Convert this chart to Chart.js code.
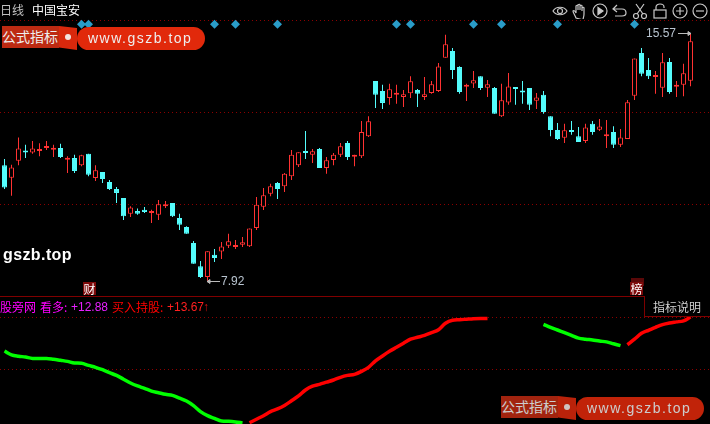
<!DOCTYPE html>
<html>
<head>
<meta charset="utf-8">
<title>中国宝安 日线</title>
<script src="https://cdn.jsdelivr.net/npm/chart.js@4"></script>
<style>
  html, body { margin: 0; padding: 0; background: #000; overflow: hidden; }
  #wrap { position: relative; width: 710px; height: 424px; font: 12px "Noto Sans CJK SC", sans-serif; }
  #wrap canvas { position: absolute; left: 0; top: 0; }
  .t { position: absolute; white-space: nowrap; line-height: 14px; }
  .num { font-family: "Liberation Sans", sans-serif; }
  .mark { position: absolute; background: #7d0a0a; color: #fff; text-align: center; line-height: 13px; height: 13px; width: 13px; font-size: 12px; }
  .badge { position: absolute; width: 205px; height: 25px; }
  .badge .a { position: absolute; left: 0; top: 0; width: 57px; height: 22px; background: #bd2a12; color: #eee; font-size: 14px; line-height: 21px; white-space: nowrap; overflow: hidden; }
  .badge .b { position: absolute; left: 57px; top: 0; width: 18px; height: 24px; background: #d8280c; clip-path: polygon(0 0, 100% 8%, 100% 100%, 0 90%); }
  .badge .dot { position: absolute; left: 63px; top: 8px; width: 6px; height: 6px; border-radius: 3px; background: #f2e4e0; }
  .badge .c { position: absolute; left: 75px; top: 1px; width: 128px; height: 23px; border-radius: 12px; background: #e1290b; color: #eee; font: 14px/22px "Liberation Sans", sans-serif; letter-spacing: 1.5px; text-indent: 11px; }
  svg.ico { position: absolute; top: 3px; width: 16px; height: 16px; fill: none; stroke: #c8c8c8; stroke-width: 1.2; }
</style>
</head>
<body>
<div id="wrap">
  <canvas id="kline" width="710" height="424"></canvas>

  <span class="t" style="left:0;top:3px;color:#c0c0c0">日线</span>
  <span class="t" style="left:32px;top:3px;color:#fff">中国宝安</span>

  <svg class="ico" style="left:552px" viewBox="0 0 16 16"><path d="M1 8c3-5 11-5 14 0-3 5-11 5-14 0z"/><circle cx="8" cy="8" r="2.5"/></svg>
  <svg class="ico" style="left:572px" viewBox="0 0 16 16"><path d="M4 15c-1-3-3-5-3-7 1-1 2 0 3 2V3c1-1 2-1 2 0v4-5c1-1 2-1 2 0v5-4c1-1 2-1 2 0v5-3c1-1 2-1 2 0v6c0 3-1 4-1 6z"/></svg>
  <svg class="ico" style="left:592px" viewBox="0 0 16 16"><circle cx="8" cy="8" r="7"/><path d="M6 4.500l5 3.500-5 3.500z" fill="#c8c8c8"/></svg>
  <svg class="ico" style="left:612px" viewBox="0 0 16 16"><path d="M5 2L1 6l4 3M1 6h9c3 0 4 2 4 4s-1 3-4 3H3"/></svg>
  <svg class="ico" style="left:632px" viewBox="0 0 16 16"><circle cx="4" cy="13" r="2.500"/><circle cx="12" cy="13" r="2.500"/><path d="M5 11L12 1M11 11L4 1"/></svg>
  <svg class="ico" style="left:652px" viewBox="0 0 16 16"><rect x="2" y="7" width="12" height="8"/><path d="M4 7V4c0-4 8-4 8 0v1"/></svg>
  <svg class="ico" style="left:672px" viewBox="0 0 16 16"><circle cx="8" cy="8" r="7"/><path d="M4 8h8M8 4v8"/></svg>
  <svg class="ico" style="left:692px" viewBox="0 0 16 16"><circle cx="8" cy="8" r="7"/><path d="M4 8h8"/></svg>

  <div class="badge" style="left:2px;top:26px">
    <div class="a">公式指标</div><div class="b"></div><div class="dot"></div><div class="c">www.gszb.top</div>
  </div>
  <div class="badge" style="left:501px;top:396px;opacity:.86">
    <div class="a">公式指标</div><div class="b"></div><div class="dot"></div><div class="c">www.gszb.top</div>
  </div>

  <span class="t" style="left:3px;top:246px;color:#fff;font:bold 16px/18px 'Liberation Sans',sans-serif;letter-spacing:.4px">gszb.top</span>

  <span class="t num" style="left:221px;top:274px;color:#b8c4d0">7.92</span>
  <span class="t num" style="left:646px;top:26px;color:#b8c4d0">15.57</span>
  <svg style="position:absolute;left:206px;top:277px" width="15" height="9"><path d="M1 4.500h13M1 4.500l3-2v4z" stroke="#bbb" fill="#bbb"/></svg>
  <svg style="position:absolute;left:678px;top:29px" width="15" height="9"><path d="M0 4.500h13M13 4.500l-3-2v4z" stroke="#bbb" fill="#bbb"/></svg>

  <div class="mark" style="left:83px;top:282px">财</div>
  <div class="mark" style="left:631px;top:278px;height:8px;background:#5a0808"></div>
  <div class="mark" style="left:630px;top:282px">榜</div>

  <span class="t" style="left:0;top:300px;color:#ff00ff">股旁网</span>
  <span class="t" style="left:40px;top:300px;color:#ff00ff">看多:</span>
  <span class="t num" style="left:71px;top:300px;color:#e820ff">+12.88</span>
  <span class="t" style="left:112px;top:300px;color:#ff0000">买入持股:</span>
  <span class="t num" style="left:167px;top:300px;color:#ff2020">+13.67</span>
  <span class="t num" style="left:203px;top:300px;color:#e01010">↑</span>

  <div style="position:absolute;left:644px;top:296px;width:66px;height:20px;border-left:1px solid #7d0000;border-bottom:1px solid #7d0000;background:#000"></div>
  <span class="t" style="left:653px;top:300px;color:#d0d0d0">指标说明</span>
</div>

<script>
// candles, one entry per trading day
const opens = [
  11.50,11.11,11.64,11.94,11.89,11.94,12.03,11.98,12.03,11.67,
  11.72,11.50,11.85,11.10,11.29,10.98,10.76,10.48,9.99,10.08,
  10.12,10.02,9.96,10.23,10.33,9.86,9.58,9.09,8.37,8.03,
  8.72,8.82,9.00,8.96,9.03,8.99,9.55,10.21,10.61,10.95,
  10.85,11.16,11.50,11.94,11.82,12.00,11.41,11.66,11.82,12.19,
  11.76,11.78,12.40,14.11,13.80,13.58,13.68,13.61,13.73,13.83,
  13.61,13.74,13.80,14.83,15.04,14.54,13.93,14.03,14.26,13.90,
  13.89,13.02,13.44,13.92,13.77,13.89,13.50,13.68,13.02,12.59,
  12.35,12.56,12.40,12.25,12.78,12.60,12.40,12.53,12.13,12.31,
  13.65,14.98,14.45,14.23,13.90,14.70,13.93,13.99,14.12
];
const closes = [
  10.81,11.43,12.02,11.89,12.02,11.99,12.05,12.02,11.75,11.71,
  11.32,11.81,11.20,11.34,11.07,10.76,10.64,9.92,10.19,9.99,
  10.05,10.07,10.29,10.29,9.92,9.65,9.37,8.44,8.03,8.83,
  8.62,8.98,9.14,9.01,9.11,9.54,10.27,10.57,10.85,10.76,
  11.23,11.82,11.90,11.88,11.93,11.41,11.65,11.82,12.09,11.75,
  11.78,12.53,12.86,13.68,13.43,13.85,13.71,13.70,14.10,13.71,
  13.70,14.01,14.56,15.25,14.45,13.77,13.99,14.13,13.89,14.01,
  13.09,13.51,13.94,13.86,13.75,13.37,13.60,13.15,12.59,12.31,
  12.58,12.53,12.22,12.67,12.53,12.70,12.46,12.13,12.36,13.45,
  14.81,14.33,14.26,14.26,14.69,13.77,13.99,14.35,15.34
];
const highs = [
  11.69,11.51,12.36,12.13,12.25,12.18,12.25,12.13,12.16,11.78,
  11.82,11.82,11.85,11.50,11.29,11.04,10.82,10.48,10.23,10.16,
  10.20,10.12,10.42,10.39,10.33,9.99,9.61,9.15,8.53,8.83,
  8.90,9.12,9.37,9.18,9.27,9.54,10.51,10.79,10.92,10.98,
  11.26,11.97,11.90,12.56,12.00,12.03,11.75,11.88,12.19,12.25,
  11.82,12.87,13.02,14.11,13.99,14.02,13.99,13.83,14.26,13.86,
  14.23,14.11,14.67,15.54,15.13,14.57,14.02,14.42,14.26,14.14,
  13.92,14.02,14.36,13.92,14.11,13.89,13.74,13.80,13.02,12.81,
  12.78,12.87,12.68,12.78,12.87,12.93,12.90,12.71,12.62,13.52,
  14.81,15.13,14.82,14.42,14.98,14.82,14.11,14.64,15.57
];
const lows = [
  10.76,10.55,11.50,11.72,11.85,11.78,11.97,11.75,11.72,11.26,
  11.26,11.47,11.16,11.01,10.95,10.73,10.33,9.80,9.89,9.96,
  10.02,9.71,9.80,10.17,9.89,9.49,9.37,8.44,8.00,7.92,
  8.50,8.59,8.93,8.90,8.96,8.96,9.49,10.11,10.54,10.45,
  10.67,11.04,11.44,11.69,11.57,11.41,11.23,11.50,11.75,11.66,
  11.47,11.72,12.37,13.27,13.24,13.37,13.40,13.30,13.58,13.30,
  13.52,13.71,13.77,14.83,14.17,13.71,13.49,13.89,13.83,13.61,
  13.09,12.99,13.37,13.37,13.40,13.21,13.24,13.09,12.40,12.28,
  12.19,12.44,12.22,12.19,12.44,12.56,12.03,12.03,12.06,12.31,
  13.52,14.26,14.17,13.71,13.61,13.71,13.61,13.64,13.95
];

// lower panel line, split where the colour changes or the line breaks
const bearStart1 = 0;
const bearLine1 = [
  12.41,12.27,12.22,12.19,12.14,12.14,12.14,12.11,12.07,12.03,
  11.97,11.96,11.88,11.81,11.72,11.61,11.51,11.37,11.23,11.12,
  11.03,10.93,10.87,10.81,10.77,10.67,10.56,10.39,10.17,10.02,
  9.92,9.82,9.81,9.79,9.75
];
const bullStart1 = 35;
const bullLine1 = [
  9.76,9.89,10.02,10.17,10.27,10.40,10.57,10.75,10.97,11.11,
  11.18,11.26,11.34,11.44,11.51,11.55,11.66,11.81,12.05,12.23,
  12.40,12.55,12.70,12.85,12.92,12.99,13.09,13.20,13.44,13.55,
  13.57,13.59,13.61,13.62,13.62
];
const bearStart2 = 77;
const bearLine2 = [13.40,13.29,13.19,13.09,12.99,12.89,12.85,12.82,12.78,12.75,12.68,12.61];
const bullStart2 = 89;
const bullLine2 = [12.64,12.85,13.07,13.18,13.29,13.39,13.45,13.49,13.53,13.67];

// signal diamonds along the top
const signalDays = [11, 12, 30, 33, 39, 56, 58, 67, 71, 79, 90];
const signalLevel = 15.87;

// dotted guide levels
const priceGuides = [16.0, 13.13, 10.27];
const lineGuides = [13.67, 11.71];
const panelEdge = [296];

const RED = '#ff3232';
const CYAN = '#54fcfc';
const GUIDE = '#8c0000';

const days = opens.map((_, i) => i);
const isUp = days.map((i) => closes[i] >= opens[i]);

function linePoints(values, start) {
  return values.map((y, i) => ({ x: start + i, y }));
}

function lineDataset(values, start, color) {
  return {
    type: 'line',
    data: linePoints(values, start),
    yAxisID: 'yLine',
    borderColor: color,
    borderWidth: 3.5,
    pointRadius: 0,
    cubicInterpolationMode: 'monotone',
    order: 1,
  };
}

function guideAxis(min, max, values, color, dash) {
  return {
    min,
    max,
    position: 'left',
    ticks: { display: false },
    border: { display: false, dash },
    grid: { color, drawTicks: false },
    afterBuildTicks(axis) {
      axis.ticks = values.map((value) => ({ value }));
    },
  };
}

new Chart(document.getElementById('kline'), {
  data: {
    datasets: [
      {
        type: 'bar',
        data: days.map((i) => ({ x: i, y: [lows[i], highs[i]] })),
        yAxisID: 'yPrice',
        grouped: false,
        maxBarThickness: 1,
        backgroundColor: days.map((i) => (isUp[i] ? RED : CYAN)),
        borderWidth: 0,
        order: 3,
      },
      {
        type: 'bar',
        data: days.map((i) => ({ x: i, y: [opens[i], closes[i]] })),
        yAxisID: 'yPrice',
        grouped: false,
        maxBarThickness: 5,
        minBarLength: 2,
        backgroundColor: days.map((i) => (isUp[i] ? '#000' : CYAN)),
        borderColor: days.map((i) => (isUp[i] ? RED : CYAN)),
        borderWidth: 1,
        borderSkipped: false,
        order: 2,
      },
      lineDataset(bearLine1, bearStart1, '#00ff00'),
      lineDataset(bullLine1, bullStart1, '#ff0000'),
      lineDataset(bearLine2, bearStart2, '#00ff00'),
      lineDataset(bullLine2, bullStart2, '#ff0000'),
      {
        type: 'scatter',
        data: signalDays.map((x) => ({ x, y: signalLevel })),
        yAxisID: 'yPrice',
        pointStyle: 'rectRot',
        pointRadius: 4.5,
        backgroundColor: '#2a9cc8',
        borderWidth: 0,
        order: 0,
      },
    ],
  },
  options: {
    responsive: false,
    animation: false,
    layout: { padding: 0, autoPadding: false },
    plugins: { legend: { display: false }, tooltip: { enabled: false } },
    scales: {
      x: { type: 'linear', display: false, offset: false, min: -4.5 / 7, max: 705.5 / 7 },
      yPrice: guideAxis(3.476, 16.62, priceGuides, GUIDE, [1, 3]),
      yLine: guideAxis(9.712, 25.4, lineGuides, GUIDE, [1, 3]),
      yFrame: { ...guideAxis(0, 424, panelEdge, '#800000'), reverse: true },
    },
  },
});
</script>
</body>
</html>
